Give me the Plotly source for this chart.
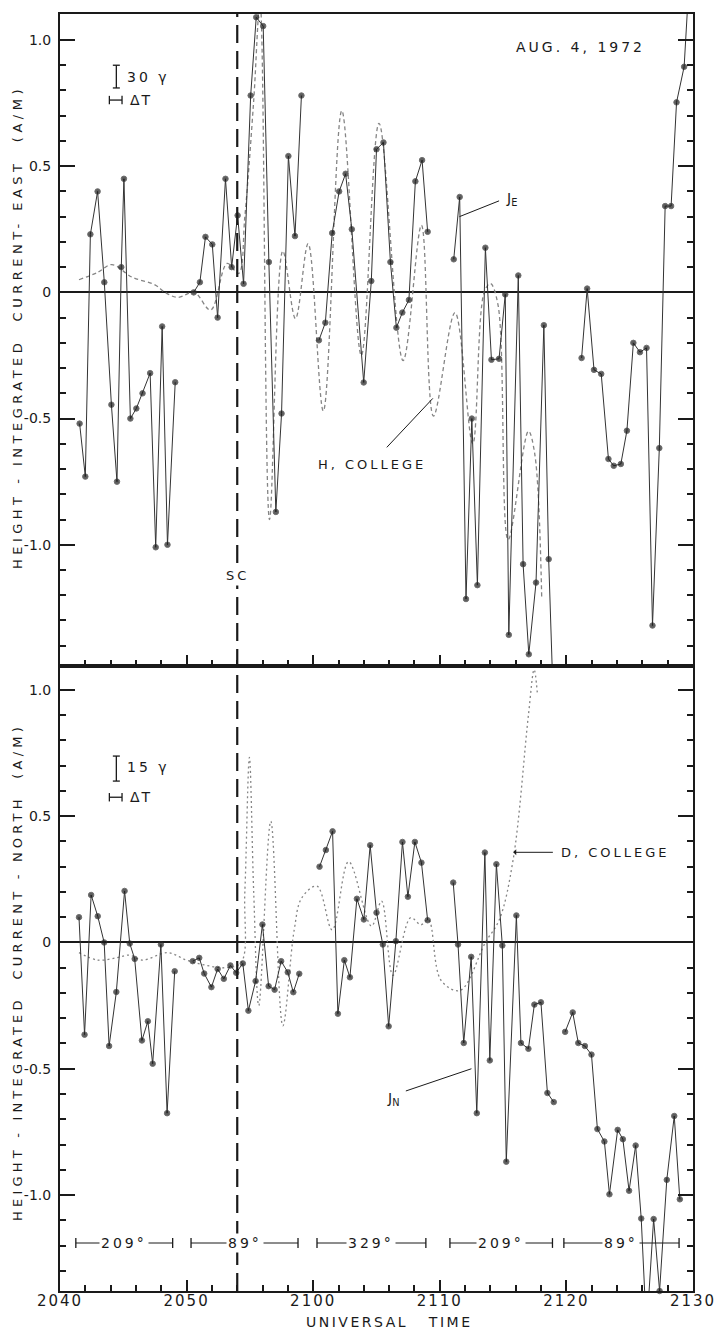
import plotly.graph_objects as go
from plotly.subplots import make_subplots

# ---------------- data (x = minutes after 20:40 UT) ----------------
# Height-integrated current, east component (A/M); None = gap between scans
je_t = [1.55, 2.0, 2.4, 2.97, 3.5, 4.06, 4.5, 4.84, 5.05, 5.56, 6.03, 6.52, 7.12, 7.56, 8.07, 8.49, 9.1, None,
        10.56, 11.05, 11.49, 12.03, 12.45, 13.07, 13.56, 14.03, 14.5, 15.06, 15.5, 16.05, 16.5, 17.05, 17.5, 18.04, 18.56, 19.07, None,
        20.45, 20.96, 21.5, 22.05, 22.56, 23.05, 23.99, 24.59, 25.0, 25.55, 26.1, 26.57, 27.04, 27.56, 28.07, 28.6, 29.04, None,
        31.1, 31.57, 32.07, 32.53, 32.97, 33.6, 34.08, 34.68, 35.17, 35.45, 36.2, 36.58, 37.03, 37.6, 38.22, 38.6, 38.95, None,
        41.2, 41.64, 42.18, 42.75, 43.32, 43.74, 44.3, 44.78, 45.29, 45.81, 46.33, 46.8, 47.34, 47.8, 48.27, 48.7, 49.3, 49.65]
je_v = [-0.52, -0.73, 0.23, 0.40, 0.04, -0.445, -0.75, 0.10, 0.45, -0.50, -0.46, -0.40, -0.32, -1.01, -0.135, -1.00, -0.356, None,
        0.0, 0.04, 0.22, 0.19, -0.10, 0.45, 0.10, 0.305, 0.034, 0.78, 1.09, 1.055, 0.12, -0.87, -0.48, 0.54, 0.223, 0.78, None,
        -0.19, -0.12, 0.235, 0.40, 0.47, 0.25, -0.357, 0.045, 0.567, 0.594, 0.12, -0.14, -0.08, -0.03, 0.44, 0.524, 0.24, None,
        0.131, 0.378, -1.215, -0.50, -1.16, 0.177, -0.267, -0.263, -0.008, -1.357, 0.067, -1.077, -1.434, -1.15, -0.13, -1.057, -1.6, None,
        -0.26, 0.015, -0.307, -0.323, -0.66, -0.687, -0.68, -0.548, -0.20, -0.237, -0.22, -1.32, -0.617, 0.342, 0.342, 0.753, 0.894, 1.2]

# H component at College (scaled), dashed curve in the upper panel
h_t = [1.5, 3.0, 4.1, 5.7, 7.5, 8.3, 9.3, 10.6, 11.9, 13.2, 14.1, 14.6, 15.3, 15.8, 16.55, 17.6, 18.6, 19.6,
       20.8, 22.26, 23.8, 25.2, 27.1, 28.55, 29.5, 31.2, 32.6, 33.5, 34.0, 34.6, 35.4, 37.0, 37.5, 38.05]
h_v = [0.05, 0.08, 0.11, 0.06, 0.03, 0.0, -0.02, 0.0, -0.07, 0.115, 0.075, 0.3, 0.76, 1.15, -0.9, 0.164, -0.104, 0.193,
       -0.47, 0.72, -0.25, 0.67, -0.27, 0.266, -0.49, -0.08, -0.6, 0.0, 0.035, -0.05, -0.98, -0.55, -0.64, -1.21]

# Height-integrated current, north component (A/M)
jn_t = [1.5, 1.94, 2.46, 2.98, 3.49, 3.88, 4.45, 5.1, 5.51, 5.9, 6.47, 6.94, 7.32, 7.97, 8.46, 9.06, None,
        10.48, 11.0, 11.39, 11.96, 12.45, 12.94, 13.46, 13.92, 14.44, 14.88, 15.45, 15.99, 16.48, 16.95, 17.47, 17.99, 18.43, 18.9, None,
        20.5, 21.0, 21.53, 21.95, 22.46, 22.9, 23.45, 24.0, 24.5, 25.0, 25.5, 25.96, 26.53, 27.05, 27.48, 28.03, 28.55, 29.04, None,
        31.06, 31.44, 31.89, 32.48, 32.92, 33.56, 33.95, 34.47, 34.94, 35.25, 36.05, 36.41, 37.0, 37.47, 37.99, 38.5, 39.0, None,
        39.9, 40.5, 40.94, 41.46, 41.98, 42.45, 43.0, 43.4, 44.05, 44.46, 44.95, 45.47, 45.91, 46.33, 46.89, 47.36, 47.93, 48.52, 48.96]
jn_v = [0.10, -0.365, 0.188, 0.104, 0.0, -0.41, -0.196, 0.204, -0.004, -0.065, -0.388, -0.312, -0.48, -0.008, -0.676, -0.114, None,
        -0.074, -0.061, -0.123, -0.177, -0.105, -0.144, -0.091, -0.12, -0.083, -0.27, -0.153, 0.071, -0.173, -0.187, -0.074, -0.118, -0.197, -0.124, None,
        0.30, 0.366, 0.44, -0.282, -0.07, -0.138, 0.173, 0.091, 0.385, 0.118, -0.008, -0.332, 0.005, 0.398, 0.181, 0.398, 0.316, 0.088, None,
        0.237, -0.008, -0.398, -0.057, -0.676, 0.356, -0.467, 0.31, -0.012, -0.868, 0.107, -0.398, -0.421, -0.246, -0.237, -0.596, -0.632, None,
        -0.354, -0.277, -0.398, -0.41, -0.444, -0.739, -0.788, -0.997, -0.742, -0.779, -0.983, -0.804, -1.093, -1.54, -1.095, -1.38, -0.94, -0.687, -1.017]

# D component at College (scaled), dotted curve in the lower panel
d_t = [1.5, 3.0, 4.5, 5.5, 6.5, 8.5, 10.0, 11.5, 13.0, 14.3, 14.6, 14.96, 15.3, 15.7, 16.65, 17.6, 18.5, 19.1, 20.3,
       21.5, 22.8, 24.6, 25.4, 26.3, 27.7, 28.5, 29.1, 30.1, 31.6, 33.6, 34.7, 35.8, 37.0, 37.45, 37.7]
d_v = [-0.04, -0.07, -0.06, -0.05, -0.07, -0.04, -0.07, -0.09, -0.1, -0.08, 0.2, 0.733, 0.2, -0.25, 0.48, -0.33, 0.05, 0.177, 0.223,
       0.05, 0.32, 0.065, 0.164, -0.13, 0.098, 0.07, 0.09, -0.15, -0.19, 0.0, 0.09, 0.33, 0.9, 1.08, 0.99]

# sudden commencement time
sc_time = 14.0

# scan segments (antenna azimuth) shown along the bottom of the lower panel
seg_start = [1.25, 10.35, 20.3, 30.8, 39.8]
seg_end = [8.9, 18.8, 28.9, 38.9, 48.9]
seg_labels = ["209°", "89°", "329°", "209°", "89°"]

# axes
x_tickvals = [0, 10, 20, 30, 40, 50]
x_ticklabels = ["2040", "2050", "2100", "2110", "2120", "2130"]
y_tickvals = [-1.0, -0.5, 0, 0.5, 1.0]
y_ticklabels = ["-1.0", "-0.5", "0", "0.5", "1.0"]
top_range = [-1.48, 1.103]
bot_range = [-1.38, 1.095]

# ---------------- figure ----------------
FONT = "DejaVu Sans"
INK = "#1a1a1a"
fig = make_subplots(rows=2, cols=1, vertical_spacing=0)


def msizes(vals, rng):
    return [0 if (v is None or v < rng[0] - 0.01 or v > rng[1] + 0.01) else 5.5 for v in vals]


def ls(s, px):
    return f'<span style="letter-spacing:{px}px">{s}</span>'


fig.add_trace(go.Scatter(x=h_t, y=h_v, mode="lines", showlegend=False, hoverinfo="skip",
                         line=dict(color="#858585", width=1.3, dash="4px,3px", shape="spline", smoothing=1.0)),
              row=1, col=1)
fig.add_trace(go.Scatter(x=je_t, y=je_v, mode="lines+markers", showlegend=False, cliponaxis=False,
                         connectgaps=False,
                         line=dict(color="#333", width=1),
                         marker=dict(color=INK, size=msizes(je_v, top_range))),
              row=1, col=1)
fig.add_trace(go.Scatter(x=d_t, y=d_v, mode="lines", showlegend=False, hoverinfo="skip",
                         line=dict(color="#858585", width=1.3, dash="2px,3px", shape="spline", smoothing=1.0)),
              row=2, col=1)
fig.add_trace(go.Scatter(x=jn_t, y=jn_v, mode="lines+markers", showlegend=False, cliponaxis=False,
                         connectgaps=False,
                         line=dict(color="#333", width=1),
                         marker=dict(color=INK, size=msizes(jn_v, bot_range))),
              row=2, col=1)

# scale bars (gamma and delta-T)
for row, (ya, yb, ydt) in zip([1, 2], [(0.81, 0.90, 0.762), (0.639, 0.738, 0.575)]):
    fig.add_trace(go.Scatter(x=[4.45, 4.45], y=[ya, yb], mode="lines+markers", showlegend=False, hoverinfo="skip",
                             cliponaxis=False, line=dict(color=INK, width=1.3),
                             marker=dict(symbol="line-ew", size=5, line=dict(color=INK, width=1.3))),
                  row=row, col=1)
    fig.add_trace(go.Scatter(x=[3.9, 4.9], y=[ydt, ydt], mode="lines+markers", showlegend=False, hoverinfo="skip",
                             cliponaxis=False, line=dict(color=INK, width=1.3),
                             marker=dict(symbol="line-ns", size=6, line=dict(color=INK, width=1.3))),
                  row=row, col=1)

# scan-segment brackets
for s, e, lab in zip(seg_start, seg_end, seg_labels):
    fig.add_trace(go.Scatter(x=[s, e], y=[-1.19, -1.19], mode="lines+markers", showlegend=False, hoverinfo="skip",
                             line=dict(color=INK, width=1),
                             marker=dict(symbol="line-ns", size=7, line=dict(color=INK, width=1.3))),
                  row=2, col=1)
    fig.add_annotation(x=(s + e) / 2, y=-1.19, xref="x2", yref="y2", text=ls(lab, 3), showarrow=False,
                       bgcolor="white", borderpad=1, font=dict(family=FONT, size=14, color=INK))

axis_common = dict(showline=True, linecolor=INK, linewidth=2, mirror=True, showgrid=False,
                   tickcolor=INK)
fig.update_xaxes(range=[0, 50], ticks="inside", ticklen=11, tickwidth=2, tickmode="array",
                 tickvals=x_tickvals, zeroline=False,
                 minor=dict(ticks="inside", ticklen=6, tickwidth=1.5, dtick=2, tick0=0, tickcolor=INK),
                 **axis_common)
fig.update_xaxes(showticklabels=False, row=1, col=1)
fig.update_xaxes(showticklabels=True, ticktext=[ls(t, 2) for t in x_ticklabels], ticklabeloverflow="allow",
                 ticklabelstandoff=-5,
                 tickfont=dict(family=FONT, size=15, color=INK), row=2, col=1)
fig.update_yaxes(ticks="inside", ticklen=15, tickwidth=1.8, tickmode="array", tickvals=y_tickvals,
                 ticktext=y_ticklabels, tickfont=dict(family=FONT, size=14, color=INK),
                 ticklabelstandoff=4,
                 zeroline=True, zerolinecolor=INK, zerolinewidth=2,
                 minor=dict(ticks="inside", ticklen=6, tickwidth=1.5, dtick=0.1, tick0=0, tickcolor=INK),
                 **axis_common)
fig.update_yaxes(mirror="ticks")
fig.update_yaxes(range=top_range, domain=[0.4895, 1.0], row=1, col=1)
fig.update_yaxes(range=bot_range, domain=[0.0, 0.4895], row=2, col=1)

# SC dashed line across both panels
fig.add_shape(type="line", xref="x", yref="paper", x0=sc_time, x1=sc_time, y0=0, y1=1,
              line=dict(color=INK, width=2.2, dash="18px,8px"), layer="above")
fig.add_annotation(x=sc_time, y=-1.12, xref="x", yref="y", text=ls("SC", 3), showarrow=False,
                   bgcolor="white", borderpad=2, font=dict(family=FONT, size=13, color=INK))

# text annotations
fig.add_annotation(x=41.1, y=0.972, xref="x", yref="y", text=ls("AUG. 4, 1972", 3), showarrow=False,
                   font=dict(family=FONT, size=14, color=INK))
fig.add_annotation(x=5.1, y=0.853, xref="x", yref="y", text=ls("30 γ", 3), showarrow=False, xanchor="left",
                   font=dict(family=FONT, size=14, color=INK))
fig.add_annotation(x=5.4, y=0.762, xref="x", yref="y", text=ls("ΔT", 2), showarrow=False, xanchor="left",
                   font=dict(family=FONT, size=14, color=INK))
fig.add_annotation(x=5.1, y=0.694, xref="x2", yref="y2", text=ls("15 γ", 3), showarrow=False, xanchor="left",
                   font=dict(family=FONT, size=14, color=INK))
fig.add_annotation(x=5.4, y=0.575, xref="x2", yref="y2", text=ls("ΔT", 2), showarrow=False, xanchor="left",
                   font=dict(family=FONT, size=14, color=INK))

fig.add_annotation(x=20.2, y=-0.68, xref="x", yref="y", text=ls("H, COLLEGE", 3), showarrow=False,
                   xanchor="left", font=dict(family=FONT, size=13, color=INK))
fig.add_annotation(x=29.45, y=-0.42, ax=25.7, ay=-0.62, xref="x", yref="y", axref="x", ayref="y",
                   text="", showarrow=True, arrowhead=0, arrowwidth=1, arrowcolor=INK)
fig.add_annotation(x=35.1, y=0.37, xref="x", yref="y", text="J<sub>E</sub>", showarrow=False,
                   xanchor="left", font=dict(family=FONT, size=14, color=INK))
fig.add_annotation(x=31.55, y=0.30, ax=34.8, ay=0.365, xref="x", yref="y", axref="x", ayref="y",
                   text="", showarrow=True, arrowhead=0, arrowwidth=1, arrowcolor=INK)

fig.add_annotation(x=39.4, y=0.357, xref="x2", yref="y2", text=ls("D, COLLEGE", 3), showarrow=False,
                   xanchor="left", font=dict(family=FONT, size=13, color=INK))
fig.add_annotation(x=35.8, y=0.357, ax=39.05, ay=0.357, xref="x2", yref="y2", axref="x2", ayref="y2",
                   text="", showarrow=True, arrowhead=1, arrowsize=1, arrowwidth=1, arrowcolor=INK)
fig.add_annotation(x=25.7, y=-0.62, xref="x2", yref="y2", text="J<sub>N</sub>", showarrow=False,
                   xanchor="left", font=dict(family=FONT, size=14, color=INK))
fig.add_annotation(x=32.5, y=-0.50, ax=27.2, ay=-0.59, xref="x2", yref="y2", axref="x2", ayref="y2",
                   text="", showarrow=True, arrowhead=0, arrowwidth=1, arrowcolor=INK)

# axis titles
fig.add_annotation(x=-0.066, y=0.755, xref="paper", yref="paper", textangle=-90,
                   xanchor="center", yanchor="middle",
                   text=ls("HEIGHT - INTEGRATED  CURRENT- EAST  (A/M)", 4.5), showarrow=False,
                   font=dict(family=FONT, size=13, color=INK))
fig.add_annotation(x=-0.066, y=0.25, xref="paper", yref="paper", textangle=-90,
                   xanchor="center", yanchor="middle",
                   text=ls("HEIGHT - INTEGRATED  CURRENT - NORTH  (A/M)", 4.2), showarrow=False,
                   font=dict(family=FONT, size=13, color=INK))
fig.add_annotation(x=0.52, y=0, yshift=-31, xref="paper", yref="paper",
                   xanchor="center", yanchor="middle",
                   text=ls("UNIVERSAL&nbsp;&nbsp;&nbsp;TIME", 2.5), showarrow=False,
                   font=dict(family=FONT, size=14, color=INK))

fig.update_layout(width=728, height=1332, margin=dict(l=60, r=22, t=14, b=41),
                  paper_bgcolor="white", plot_bgcolor="white", showlegend=False,
                  font=dict(family=FONT, color=INK))

fig.write_html("out.html", config={"displayModeBar": False},
               post_script="document.body.style.margin='0px';")
